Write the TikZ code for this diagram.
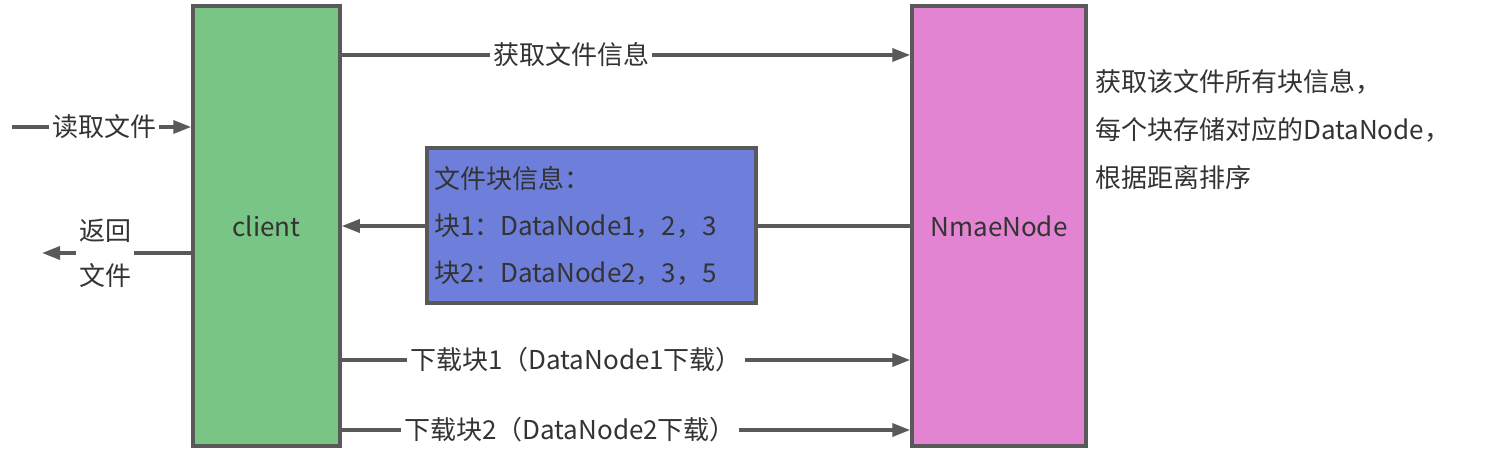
\documentclass[tikz,border=0pt]{standalone}
\usepackage{fontspec}
\setmainfont{Noto Sans CJK SC}
\usetikzlibrary{arrows.meta}
\definecolor{cgreen}{HTML}{78C585}
\definecolor{cpink}{HTML}{E384D2}
\definecolor{cblue}{HTML}{6D7FDA}
\definecolor{cline}{HTML}{595959}
\definecolor{ctext}{HTML}{333333}
\tikzset{
  box/.style={draw=cline, line width=3.5pt, text=ctext, inner sep=0pt},
  arr/.style={draw=cline, line width=3.5pt, -{Triangle[length=18pt,width=13pt]}},
  lbl/.style={fill=white, text=ctext, inner xsep=3pt, inner ysep=1pt, font=\fontsize{26}{45}\selectfont},
}
\begin{document}
\begin{tikzpicture}[x=1pt,y=-1pt, font=\fontsize{26}{47}\selectfont]
\useasboundingbox (0,0) rectangle (1494,457);
\node[box, fill=cgreen, minimum width=147pt, minimum height=440pt] (client) at (266.5,226) {client};
\node[box, fill=cpink, minimum width=174pt, minimum height=440pt] (nn) at (999,226) {NmaeNode};
\coordinate (ya) at (0,55);
\coordinate (yb) at (0,226);
\coordinate (yc) at (0,360);
\coordinate (yd) at (0,430);
\coordinate (inL) at (12,127);
\coordinate (outL) at (42,253);
% read file
\draw[arr] (inL) -- (client.west |- inL);
\node[lbl] (lread) at (104,127) {读取文件};
% return file
\draw[arr] (client.west |- outL) -- (outL);
\node[lbl, align=center] (lret) at (105,253) {返回\\文件};
% get file info
\draw[arr] (client.east |- ya) -- (nn.west |- ya);
\node[lbl] (lget) at (571,55) {获取文件信息};
% block info back
\draw[arr] (nn.west |- yb) -- (client.east |- yb);
\node[box, fill=cblue, minimum width=329pt, minimum height=155pt, align=left, text width=315pt] (info) at (591.5,225.5)
  {文件块信息：\\块1：DataNode1，2，3\\块2：DataNode2，3，5};
% downloads
\draw[arr] (client.east |- yc) -- (nn.west |- yc);
\node[lbl] (ld1) at (576,360) {下载块1（DataNode1下载）};
\draw[arr] (client.east |- yd) -- (nn.west |- yd);
\node[lbl] (ld2) at (570,430) {下载块2（DataNode2下载）};
% note
\node[anchor=north west, text=ctext, align=left, inner sep=0pt, font=\fontsize{26}{48}\selectfont] (note) at (1095,69)
  {获取该文件所有块信息，\\每个块存储对应的DataNode，\\根据距离排序};
\end{tikzpicture}
\end{document}
